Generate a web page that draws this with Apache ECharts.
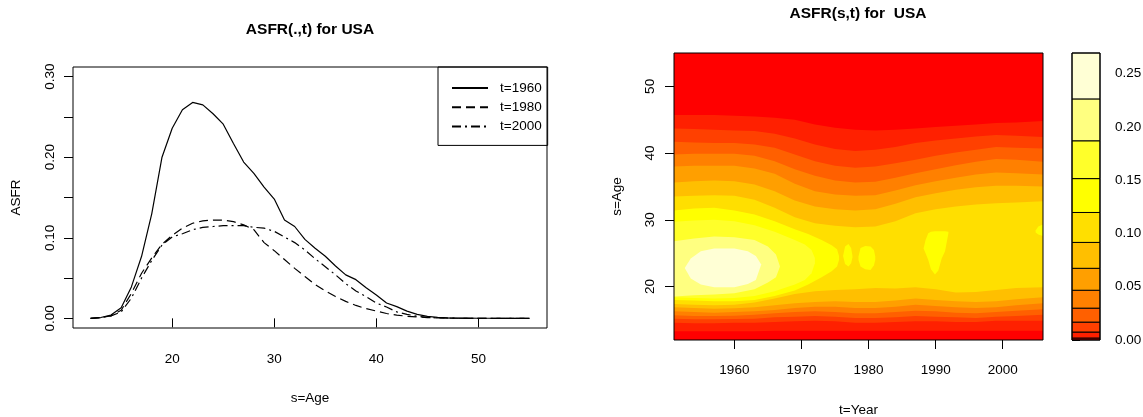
<!DOCTYPE html>
<html><head><meta charset="utf-8">
<script src="https://cdn.jsdelivr.net/npm/echarts@6/dist/echarts.min.js"></script>
<style>html,body{margin:0;padding:0;background:#fff}#c{width:1143px;height:417px}</style>
</head><body><div id="c"></div>
<script>
// ---------- left panel: ASFR profiles ----------
const ages = [12,13,14,15,16,17,18,19,20,21,22,23,24,25,26,27,28,29,30,31,32,33,34,35,36,37,38,39,40,41,42,43,44,45,46,47,48,49,50,51,52,53,54,55];
const asfr1960 = [0,0.001,0.004,0.013,0.039,0.077,0.130,0.200,0.236,0.259,0.268,0.265,0.254,0.241,0.217,0.194,0.180,0.163,0.148,0.122,0.114,0.098,0.087,0.077,0.065,0.054,0.048,0.038,0.029,0.019,0.0145,0.009,0.005,0.0025,0.0012,0.0006,0.0003,0.0002,0.0001,0.0001,0,0,0,0];
const asfr1980 = [0,0.001,0.003,0.010,0.031,0.056,0.075,0.092,0.103,0.112,0.118,0.121,0.122,0.122,0.120,0.116,0.110,0.094,0.084,0.073,0.062,0.052,0.042,0.034,0.027,0.021,0.016,0.012,0.009,0.006,0.004,0.0026,0.0017,0.001,0.0006,0.0003,0.0001,0,0,0,0,0,0,0];
const asfr2000 = [0,0.001,0.003,0.008,0.025,0.050,0.072,0.091,0.101,0.105,0.110,0.113,0.114,0.115,0.115,0.115,0.113,0.112,0.108,0.101,0.094,0.085,0.074,0.064,0.054,0.043,0.034,0.027,0.019,0.014,0.008,0.005,0.0025,0.0012,0.0005,0.0002,0.0001,0,0,0,0,0,0,0];
const seriesNames = ['t=1960','t=1980','t=2000'];
const leftXTicks = [20,30,40,50];
const leftYTicks = [0,0.05,0.1,0.15,0.2,0.25,0.3];
const leftYLabels = [0,0.1,0.2,0.3];

// ---------- right panel: filled contour of ASFR(s,t) ----------
const yearRange = [1951, 2006];
const ageRange = [12, 55];
const yearTicks = [1960,1970,1980,1990,2000];
const ageTicks = [20,30,40,50];
const levels = [0,0.00187,0.00748,0.0168,0.0299,0.0467,0.0673,0.0916,0.1197,0.1515,0.187,0.2263,0.2694];
const barTicks = [0,0.05,0.1,0.15,0.2,0.25];
const bandColors = ['#FF0000','#FF2000','#FF4000','#FF6000','#FF8000','#FF9F00','#FFBF00','#FFDF00','#FFFF00','#FFFF2A','#FFFF80','#FFFFD5'];

// contour crossing ages (lower / upper) per level
const contourYears = [1951,1954,1957,1960,1963,1966,1969,1972,1975,1978,1981,1984,1987,1990,1993,1996,1999,2002,2006];
const lower1 = [13.3,13.3,13.3,13.3,13.3,13.4,13.4,13.4,13.4,13.4,13.4,13.4,13.4,13.4,13.4,13.4,13.4,13.4,13.4];
const upper1 = [45.7,45.7,45.7,45.6,45.5,45.3,45.0,44.3,43.8,43.5,43.4,43.5,43.7,43.9,44.1,44.3,44.5,44.6,44.8];
const lower2 = [14.6,14.5,14.5,14.6,14.6,14.7,14.8,14.9,14.8,14.6,14.6,14.7,14.8,14.8,14.7,14.7,14.9,14.9,14.9];
const upper2 = [43.7,43.6,43.5,43.4,43.3,42.9,42.2,41.3,40.6,40.3,40.5,40.9,41.5,41.9,42.2,42.5,42.7,42.6,42.4];
const lower3 = [15.2,15.1,15.1,15.15,15.2,15.4,15.5,15.6,15.5,15.3,15.3,15.4,15.6,15.5,15.4,15.3,15.5,15.6,15.8];
const upper3 = [41.7,41.6,41.5,41.5,41.3,40.8,39.8,38.8,38.1,37.8,38.0,38.5,39.0,39.6,40.1,40.5,40.9,40.8,40.7];
const lower4 = [15.7,15.6,15.6,15.65,15.8,16.0,16.2,16.3,16.2,16.0,16.0,16.2,16.4,16.3,16.1,16.0,16.2,16.4,16.6];
const upper4 = [39.8,39.9,39.9,39.9,39.6,38.8,37.6,36.6,35.9,35.6,35.7,36.3,37.0,37.6,38.2,38.7,39.1,39.0,38.7];
const lower5 = [16.3,16.2,16.1,16.2,16.3,16.5,16.8,17.0,17.0,16.8,16.8,17.0,17.3,17.1,16.9,16.8,16.9,17.2,17.5];
const upper5 = [38.0,38.1,38.1,38.1,37.7,36.9,35.4,34.3,33.8,33.6,33.7,34.4,35.2,35.8,36.3,36.8,37.1,37.0,36.8];
const lower6 = [16.9,16.8,16.7,16.75,16.9,17.2,17.5,17.7,17.8,17.7,17.7,17.9,18.2,18.0,17.8,17.7,17.8,18.1,18.4];
const upper6 = [35.6,35.8,35.9,35.8,35.3,34.3,32.9,32.0,31.6,31.4,31.6,32.4,33.4,34.0,34.5,34.9,35.1,35.1,35.0];
const lower7 = [17.4,17.3,17.2,17.3,17.6,18.2,18.9,19.3,19.5,19.6,19.8,19.7,19.9,19.6,19.1,19.2,19.5,19.8,19.9];
const upper7 = [33.5,33.6,33.7,33.6,33.0,31.8,30.4,29.5,29.1,28.9,29.0,29.8,31.0,31.6,32.0,32.3,32.5,32.6,32.8];

const level8Years = [1951,1954,1957,1960,1963,1966,1969,1971,1973,1974.5,1975.3,1975.6];
const upper8 = [31.4,31.7,31.8,31.4,30.8,29.8,28.6,27.9,27.0,26.2,25.6,24.6];
const lower8 = [18.0,17.9,17.8,17.8,18.0,18.6,19.4,20.3,21.4,22.3,23.0,24.0];
const islandAYears = [1976.2,1976.5,1977.0,1977.4,1977.6];
const islandAUpper = [24.6,26.0,26.4,25.8,24.6];
const islandALower = [24.6,23.4,23.0,23.5,24.4];
const islandBYears = [1978.5,1978.8,1979.5,1980.3,1980.8,1981.0];
const islandBUpper = [24.5,25.8,26.1,26.0,25.5,24.5];
const islandBLower = [24.0,23.0,22.6,22.5,23.2,24.0];
const islandCYears = [1988.2,1988.5,1988.9,1989.3,1989.9,1990.4,1990.9,1991.4,1991.9];
const islandCUpper = [25.7,27.0,28.0,28.2,28.3,28.3,28.3,28.3,28.2];
const islandCLower = [25.7,25.0,24.0,22.6,21.8,22.4,24.2,25.3,28.0];
const islandDYears = [2004.9,2005.3,2006];
const islandDUpper = [28.4,29.0,29.3];
const islandDLower = [28.1,27.8,27.6];

const level9Years = [1951,1954,1957,1960,1963,1966,1969,1970.5,1971.5,1972];
const upper9 = [29.7,29.9,30.0,29.8,29.2,28.2,27.0,26.3,25.5,24.3];
const lower9 = [18.4,18.3,18.2,18.3,18.6,19.3,20.3,21.0,22.0,23.5];

const level10Years = [1951,1954,1957,1960,1963,1965,1966.2,1966.8];
const upper10 = [26.8,27.2,27.5,27.4,27.0,26.0,24.8,23.0];
const lower10 = [18.5,18.7,18.8,19.0,19.6,20.6,21.4,23.0];

const level11Years = [1952.6,1953.5,1955,1957,1960,1962,1963.2,1964.0];
const upper11 = [22.8,24.2,25.3,25.7,25.7,25.3,24.6,23.3];
const lower11 = [22.8,21.2,20.3,19.9,19.9,20.4,21.0,23.3];

// ---------- build regions (painted from lowest level up) ----------
const regions = [
  {band:0, years:yearRange, lo:[ageRange[0],ageRange[0]], hi:[ageRange[1],ageRange[1]]},
  {band:1, years:contourYears, lo:lower1, hi:upper1},
  {band:2, years:contourYears, lo:lower2, hi:upper2},
  {band:3, years:contourYears, lo:lower3, hi:upper3},
  {band:4, years:contourYears, lo:lower4, hi:upper4},
  {band:5, years:contourYears, lo:lower5, hi:upper5},
  {band:6, years:contourYears, lo:lower6, hi:upper6},
  {band:7, years:contourYears, lo:lower7, hi:upper7},
  {band:8, years:level8Years, lo:lower8, hi:upper8},
  {band:8, years:islandAYears, lo:islandALower, hi:islandAUpper},
  {band:8, years:islandBYears, lo:islandBLower, hi:islandBUpper},
  {band:8, years:islandCYears, lo:islandCLower, hi:islandCUpper},
  {band:8, years:islandDYears, lo:islandDLower, hi:islandDUpper},
  {band:9, years:level9Years, lo:lower9, hi:upper9},
  {band:10, years:level10Years, lo:lower10, hi:upper10},
  {band:11, years:level11Years, lo:lower11, hi:upper11}
];

const FONT = 'Liberation Sans, Arial, sans-serif';
const TXT = {color:'#000', fontFamily:FONT, fontSize:13.5};

const chart = echarts.init(document.getElementById('c'), null, {renderer:'canvas'});
const lineTypes = ['solid',[9,5],[9,4,2,4]];
const profiles = [asfr1960, asfr1980, asfr2000];

const option = {
  animation:false,
  backgroundColor:'#fff',
  textStyle:{fontFamily:FONT},
  title:[
    {text:'ASFR(.,t) for USA', left:310, top:22, textAlign:'center', padding:0,
     textStyle:{fontSize:15.5, fontWeight:'bold', color:'#000', fontFamily:FONT}},
    {text:'ASFR(s,t) for  USA', left:858, top:6, textAlign:'center', padding:0,
     textStyle:{fontSize:15.5, fontWeight:'bold', color:'#000', fontFamily:FONT}}
  ],
  legend:{
    data:seriesNames, orient:'vertical', left:438, top:67,
    padding:[14,6,12,13], itemWidth:36, itemHeight:14, itemGap:5.2,
    borderColor:'#000', borderWidth:1, selectedMode:false,
    itemStyle:{opacity:0},
    textStyle:Object.assign({padding:[0,0,0,7]}, TXT)
  },
  grid:[
    {left:73, top:67, width:474, height:261, show:true, borderColor:'#000', borderWidth:1, backgroundColor:'transparent', z:5, outerBoundsMode:'none'},
    {left:674, top:53, width:369, height:287, show:true, borderColor:'#000', borderWidth:1, backgroundColor:'transparent', z:5, outerBoundsMode:'none'},
    {left:1072, top:53, width:28, height:287, show:true, borderColor:'#000', borderWidth:1, backgroundColor:'transparent', z:5, outerBoundsMode:'none'}
  ],
  xAxis:[
    {type:'value', gridIndex:0, min:10.28, max:56.72, splitLine:{show:false}, axisLine:{show:false},
     axisTick:{customValues:leftXTicks, length:9, lineStyle:{color:'#000'}},
     axisLabel:Object.assign({customValues:leftXTicks, margin:24, formatter:v=>String(v)}, TXT),
     name:'s=Age', nameLocation:'middle', nameGap:63, nameTextStyle:TXT},
    {type:'value', gridIndex:1, min:yearRange[0], max:yearRange[1], splitLine:{show:false}, axisLine:{show:false},
     axisTick:{customValues:yearTicks, length:9, lineStyle:{color:'#000'}},
     axisLabel:Object.assign({customValues:yearTicks, margin:23, formatter:v=>String(v)}, TXT),
     name:'t=Year', nameLocation:'middle', nameGap:63, nameTextStyle:TXT},
    {type:'value', gridIndex:2, min:0, max:1, show:false}
  ],
  yAxis:[
    {type:'value', gridIndex:0, min:-0.012, max:0.312, splitLine:{show:false}, axisLine:{show:false},
     axisTick:{customValues:leftYTicks, length:9, lineStyle:{color:'#000'}},
     axisLabel:Object.assign({customValues:leftYLabels, margin:16, rotate:90, formatter:v=>v.toFixed(2)}, TXT),
     name:'ASFR', nameLocation:'middle', nameGap:50, nameTextStyle:TXT},
    {type:'value', gridIndex:1, min:ageRange[0], max:ageRange[1], splitLine:{show:false}, axisLine:{show:false},
     axisTick:{customValues:ageTicks, length:9, lineStyle:{color:'#000'}},
     axisLabel:Object.assign({customValues:ageTicks, margin:17, rotate:90, formatter:v=>String(v)}, TXT),
     name:'s=Age', nameLocation:'middle', nameGap:50, nameTextStyle:TXT},
    {type:'value', gridIndex:2, min:0, max:levels[levels.length-1], position:'right', splitLine:{show:false}, axisLine:{show:false},
     axisTick:{customValues:barTicks, length:8, lineStyle:{color:'#000'}},
     axisLabel:Object.assign({customValues:barTicks, margin:15, formatter:v=>v.toFixed(2)}, TXT)}
  ],
  series:[
    ...seriesNames.map((name,k)=>({
      name, type:'line', xAxisIndex:0, yAxisIndex:0, symbol:'none', showSymbol:false,
      data:ages.map((a,i)=>[a, profiles[k][i]]),
      lineStyle:{color:'#000', width:1.2, type:lineTypes[k]},
      itemStyle:{color:'#000'}
    })),
    {
      type:'custom', xAxisIndex:1, yAxisIndex:1,
      data:regions.map((r,i)=>[r.years[0], r.lo[0], i]),
      renderItem:(params, api)=>{
        const r = regions[params.dataIndex];
        const pts = [];
        for (let i=0;i<r.years.length;i++) pts.push(api.coord([r.years[i], r.lo[i]]));
        for (let i=r.years.length-1;i>=0;i--) pts.push(api.coord([r.years[i], r.hi[i]]));
        return {type:'polygon', shape:{points:pts}, style:{fill:bandColors[r.band], stroke:null}};
      }
    },
    {
      type:'custom', xAxisIndex:2, yAxisIndex:2,
      data:bandColors.map((c,i)=>[0.5, levels[i], i]),
      renderItem:(params, api)=>{
        const i = params.dataIndex;
        const p1 = api.coord([0, levels[i+1]]);
        const p2 = api.coord([1, levels[i]]);
        return {type:'rect', shape:{x:p1[0], y:p1[1], width:p2[0]-p1[0], height:p2[1]-p1[1]},
                style:{fill:bandColors[i], stroke:'#000', lineWidth:1}};
      }
    }
  ]
};
chart.setOption(option);
</script></body></html>
